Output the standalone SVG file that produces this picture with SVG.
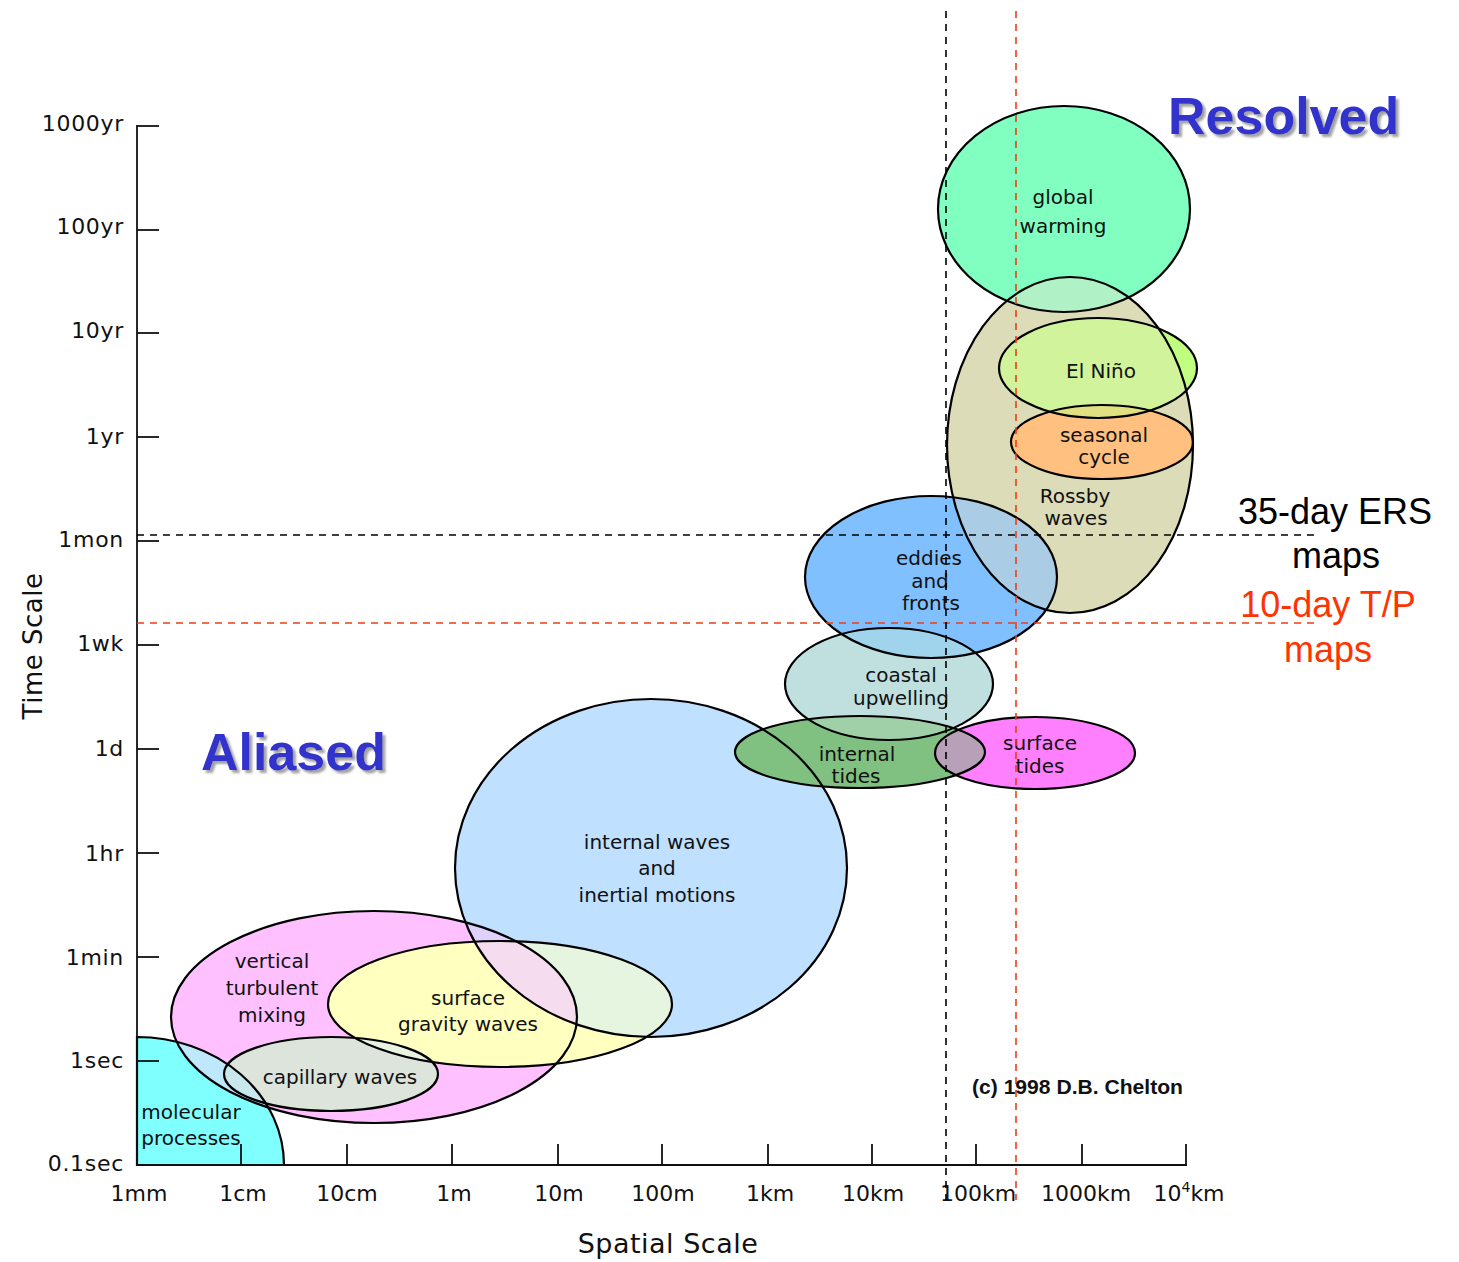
<svg xmlns="http://www.w3.org/2000/svg" xmlns:xlink="http://www.w3.org/1999/xlink" width="1459" height="1262" viewBox="0 0 1459 1262">
<style>
.lbl{font-family:"DejaVu Sans","Liberation Sans",sans-serif;font-size:20px;fill:#111;text-anchor:middle}
.ax{font-family:"DejaVu Sans","Liberation Sans",sans-serif;font-size:22px;fill:#111}
.yl{text-anchor:end;letter-spacing:0.7px}
.xl{text-anchor:middle}
.title{font-family:"DejaVu Sans","Liberation Sans",sans-serif;font-size:27px;fill:#111;text-anchor:middle;letter-spacing:0.5px}
.big{font-family:"Liberation Sans",Arial,sans-serif;font-size:52px;font-weight:bold;fill:#3333cc}
.side{font-family:"Liberation Sans",Arial,sans-serif;font-size:36px;text-anchor:middle}
.ol{fill:none;stroke:#000;stroke-width:2.2}
.tick{stroke:#111;stroke-width:1.8}
.dk{stroke:#000;stroke-width:1.6;stroke-dasharray:7 6;fill:none}
.dr{stroke:#f03c14;stroke-width:1.6;stroke-dasharray:7 6;fill:none}
</style>
<defs>
<filter id="sh" x="-5%" y="-20%" width="115%" height="150%"><feDropShadow dx="3" dy="3" stdDeviation="0.8" flood-color="#999999" flood-opacity="0.9"/></filter>
<ellipse id="e-gw" cx="1064" cy="209" rx="126" ry="103"/>
<ellipse id="e-ross" cx="1070" cy="445" rx="123" ry="168"/>
<ellipse id="e-nino" cx="1098" cy="368" rx="99" ry="50"/>
<ellipse id="e-seas" cx="1102" cy="442" rx="91" ry="37"/>
<ellipse id="e-edd" cx="931" cy="577" rx="126" ry="81"/>
<ellipse id="e-coast" cx="889" cy="684" rx="104" ry="56"/>
<ellipse id="e-itide" cx="860" cy="752" rx="125" ry="36"/>
<ellipse id="e-stide" cx="1035" cy="753" rx="100" ry="36"/>
<ellipse id="e-iw" cx="651" cy="868" rx="196" ry="169"/>
<ellipse id="e-vm" cx="374" cy="1017" rx="203" ry="106"/>
<ellipse id="e-sg" cx="500" cy="1004" rx="172" ry="63"/>
<ellipse id="e-cap" cx="331" cy="1074" rx="107" ry="37"/>
<path id="e-mol" d="M137,1037 A147,128 0 0 1 284,1165 L137,1165 Z"/>
<clipPath id="c-gw"><use xlink:href="#e-gw"/></clipPath>
<clipPath id="c-ross"><use xlink:href="#e-ross"/></clipPath>
<clipPath id="c-nino"><use xlink:href="#e-nino"/></clipPath>
<clipPath id="c-edd"><use xlink:href="#e-edd"/></clipPath>
<clipPath id="c-coast"><use xlink:href="#e-coast"/></clipPath>
<clipPath id="c-itide"><use xlink:href="#e-itide"/></clipPath>
<clipPath id="c-iw"><use xlink:href="#e-iw"/></clipPath>
<clipPath id="c-vm"><use xlink:href="#e-vm"/></clipPath>
<clipPath id="c-sg"><use xlink:href="#e-sg"/></clipPath>
<clipPath id="c-mol"><use xlink:href="#e-mol"/></clipPath>
</defs>
<rect width="1459" height="1262" fill="#fff"/>

<g id="node-molecular">
<use xlink:href="#e-mol" fill="#80ffff"/>
<text class="lbl" x="191" y="1119">molecular</text>
<text class="lbl" x="191" y="1145">processes</text>
</g>
<g id="node-vertical-mixing">
<use xlink:href="#e-vm" fill="#ffc0ff"/>
<use xlink:href="#e-vm" clip-path="url(#c-mol)" fill="#c0e8fc"/>
<text class="lbl" x="272" y="968">vertical</text>
<text class="lbl" x="272" y="995">turbulent</text>
<text class="lbl" x="272" y="1022">mixing</text>
</g>
<g id="node-internal-waves">
<use xlink:href="#e-iw" fill="#c0e0ff"/>
<use xlink:href="#e-iw" clip-path="url(#c-vm)" fill="#e0d0fc"/>
<text class="lbl" x="657" y="849">internal waves</text>
<text class="lbl" x="657" y="875">and</text>
<text class="lbl" x="657" y="902">inertial motions</text>
</g>
<g id="node-surface-gravity">
<use xlink:href="#e-sg" fill="#ffffc0"/>
<use xlink:href="#e-sg" clip-path="url(#c-iw)" fill="#e6f5df"/>
<g clip-path="url(#c-vm)"><use xlink:href="#e-sg" clip-path="url(#c-iw)" fill="#f5dcee"/></g>
<text class="lbl" x="468" y="1005">surface</text>
<text class="lbl" x="468" y="1031">gravity waves</text>
</g>
<g id="node-capillary">
<use xlink:href="#e-cap" fill="#dce4dc"/>
<use xlink:href="#e-cap" clip-path="url(#c-sg)" fill="#e8f4e0"/>
<use xlink:href="#e-cap" clip-path="url(#c-mol)" fill="#c8e8ec"/>
<text class="lbl" x="340" y="1084">capillary waves</text>
</g>
<g id="node-internal-tides">
<use xlink:href="#e-itide" fill="#80c080"/>
<text class="lbl" x="857" y="761">internal</text>
<text class="lbl" x="856" y="783">tides</text>
</g>
<g id="node-coastal">
<use xlink:href="#e-coast" fill="#c0e0e0"/>
<use xlink:href="#e-coast" clip-path="url(#c-itide)" fill="#a0d0a8"/>
<text class="lbl" x="901" y="682">coastal</text>
<text class="lbl" x="901" y="705">upwelling</text>
</g>
<g id="node-surface-tides">
<use xlink:href="#e-stide" fill="#ff80ff"/>
<use xlink:href="#e-stide" clip-path="url(#c-itide)" fill="#b8a0b8"/>
<text class="lbl" x="1040" y="750">surface</text>
<text class="lbl" x="1040" y="773">tides</text>
</g>
<g id="node-eddies">
<use xlink:href="#e-edd" fill="#80c0ff"/>
<use xlink:href="#e-edd" clip-path="url(#c-coast)" fill="#a0d4ec"/>
<text class="lbl" x="929" y="565">eddies</text>
<text class="lbl" x="930" y="588">and</text>
<text class="lbl" x="931" y="610">fronts</text>
</g>
<g id="node-rossby">
<use xlink:href="#e-ross" fill="#dcdcb8"/>
<use xlink:href="#e-ross" clip-path="url(#c-edd)" fill="#aacce4"/>
<text class="lbl" x="1075" y="503">Rossby</text>
<text class="lbl" x="1076" y="525">waves</text>
</g>
<g id="node-global-warming">
<use xlink:href="#e-gw" fill="#80ffc0"/>
<use xlink:href="#e-gw" clip-path="url(#c-ross)" fill="#b0f2c6"/>
<text class="lbl" x="1063" y="204">global</text>
<text class="lbl" x="1063" y="233">warming</text>
</g>
<g id="node-el-nino">
<use xlink:href="#e-nino" fill="#c0ff80"/>
<use xlink:href="#e-nino" clip-path="url(#c-ross)" fill="#d0f39c"/>
<text class="lbl" x="1101" y="378">El Niño</text>
</g>
<g id="node-seasonal">
<use xlink:href="#e-seas" fill="#ffc080"/>
<use xlink:href="#e-seas" clip-path="url(#c-nino)" fill="#e0e080"/>
<text class="lbl" x="1104" y="442">seasonal</text>
<text class="lbl" x="1104" y="464">cycle</text>
</g>

<g id="outlines">
<use xlink:href="#e-mol" class="ol"/>
<use xlink:href="#e-vm" class="ol"/>
<use xlink:href="#e-iw" class="ol"/>
<use xlink:href="#e-sg" class="ol"/>
<use xlink:href="#e-cap" class="ol"/>
<use xlink:href="#e-itide" class="ol"/>
<use xlink:href="#e-coast" class="ol"/>
<use xlink:href="#e-stide" class="ol"/>
<use xlink:href="#e-edd" class="ol"/>
<use xlink:href="#e-ross" class="ol"/>
<use xlink:href="#e-gw" class="ol"/>
<use xlink:href="#e-nino" class="ol"/>
<use xlink:href="#e-seas" class="ol"/>
</g>

<g id="axes">
<line x1="137" y1="125" x2="137" y2="1166" class="tick"/>
<line x1="136" y1="1165" x2="1187" y2="1165" class="tick"/>
<line x1="137" y1="126" x2="159" y2="126" class="tick"/>
<line x1="137" y1="230" x2="159" y2="230" class="tick"/>
<line x1="137" y1="333" x2="159" y2="333" class="tick" stroke-width="3"/>
<line x1="137" y1="437" x2="159" y2="437" class="tick"/>
<line x1="137" y1="541" x2="159" y2="541" class="tick"/>
<line x1="137" y1="645" x2="159" y2="645" class="tick"/>
<line x1="137" y1="749" x2="159" y2="749" class="tick"/>
<line x1="137" y1="853" x2="159" y2="853" class="tick"/>
<line x1="137" y1="957" x2="159" y2="957" class="tick"/>
<line x1="137" y1="1061" x2="159" y2="1061" class="tick"/>
<line x1="241" y1="1144" x2="241" y2="1165" class="tick"/>
<line x1="347" y1="1144" x2="347" y2="1165" class="tick"/>
<line x1="452" y1="1144" x2="452" y2="1165" class="tick"/>
<line x1="558" y1="1144" x2="558" y2="1165" class="tick"/>
<line x1="662" y1="1144" x2="662" y2="1165" class="tick"/>
<line x1="768" y1="1144" x2="768" y2="1165" class="tick"/>
<line x1="872" y1="1144" x2="872" y2="1165" class="tick"/>
<line x1="976" y1="1144" x2="976" y2="1165" class="tick"/>
<line x1="1082" y1="1144" x2="1082" y2="1165" class="tick"/>
<line x1="1186" y1="1144" x2="1186" y2="1165" class="tick"/>
<text class="ax yl" x="124" y="131">1000yr</text>
<text class="ax yl" x="124" y="234">100yr</text>
<text class="ax yl" x="124" y="338">10yr</text>
<text class="ax yl" x="124" y="444">1yr</text>
<text class="ax yl" x="124" y="547">1mon</text>
<text class="ax yl" x="124" y="651">1wk</text>
<text class="ax yl" x="124" y="756">1d</text>
<text class="ax yl" x="124" y="861">1hr</text>
<text class="ax yl" x="124" y="965">1min</text>
<text class="ax yl" x="124" y="1068">1sec</text>
<text class="ax yl" x="124" y="1171">0.1sec</text>
<text class="ax xl" x="139" y="1201">1mm</text>
<text class="ax xl" x="243" y="1201">1cm</text>
<text class="ax xl" x="347" y="1201">10cm</text>
<text class="ax xl" x="454" y="1201">1m</text>
<text class="ax xl" x="559" y="1201">10m</text>
<text class="ax xl" x="663" y="1201">100m</text>
<text class="ax xl" x="770" y="1201">1km</text>
<text class="ax xl" x="873" y="1201">10km</text>
<text class="ax xl" x="978" y="1201">100km</text>
<text class="ax xl" x="1086" y="1201">1000km</text>
<text class="ax xl" x="1189" y="1201">10<tspan font-size="14" dy="-9">4</tspan><tspan dy="9">km</tspan></text>
<text class="title" x="668" y="1253">Spatial Scale</text>
<text class="title" transform="translate(42,646) rotate(-90)" style="font-size:26px">Time Scale</text>
</g>

<g id="reference-lines">
<line x1="137" y1="535" x2="1320" y2="535" class="dk"/>
<line x1="137" y1="623" x2="1320" y2="623" class="dr"/>
<line x1="946" y1="11" x2="946" y2="1200" class="dk"/>
<line x1="1016" y1="11" x2="1016" y2="1200" class="dr"/>
</g>

<g id="annotations">
<text x="1168" y="134" class="big" filter="url(#sh)">Resolved</text>
<text x="201" y="770" class="big" filter="url(#sh)">Aliased</text>
<text class="side" x="1335" y="524" fill="#000">35-day ERS</text>
<text class="side" x="1336" y="568" fill="#000">maps</text>
<text class="side" x="1328" y="617" fill="#ff3300">10-day T/P</text>
<text class="side" x="1328" y="662" fill="#ff3300">maps</text>
<text x="972" y="1094" font-family="Liberation Sans, Arial, sans-serif" font-size="20" font-weight="bold" fill="#111" textLength="211" lengthAdjust="spacingAndGlyphs">(c) 1998 D.B. Chelton</text>
</g>
</svg>
